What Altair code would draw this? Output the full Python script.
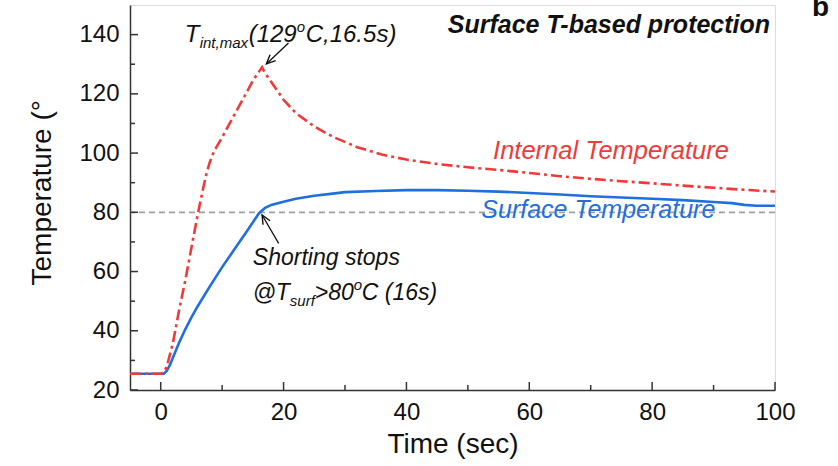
import altair as alt
import pandas as pd

# ---------------- data ----------------
time_surface = [-5, 0, 0.5, 1, 1.5, 2, 3, 4, 5, 6, 8, 10, 12, 14, 16, 17, 18, 20, 22, 25, 28, 30, 35,
                40, 45, 50, 55, 60, 65, 70, 75, 80, 85, 90, 93, 95, 97, 100]
temp_surface = [25.5, 25.5, 25.5, 26.5, 28.5, 31, 36, 40.5, 44.5, 48.2, 55, 61.5, 67.5, 73.5, 79.7,
                81.5, 82.5, 83.6, 84.6, 85.6, 86.3, 86.8, 87.2, 87.5, 87.5, 87.3, 87.0, 86.5, 86.0,
                85.4, 85.0, 84.6, 84.1, 83.5, 83.1, 82.5, 82.2, 82.2]

time_internal = [-5, 0, 0.5, 1, 2, 3, 4, 5, 6, 7, 7.5, 8, 8.5, 9, 10, 12, 14, 15, 16, 16.5, 17, 18, 20,
                 22, 25, 28, 32, 36, 40, 45, 50, 55, 60, 65, 70, 75, 80, 85, 90, 95, 100]
temp_internal = [25.5, 25.5, 26, 28, 36, 47, 57, 68, 79, 89, 93.5, 97, 99.7, 101.8, 105.3, 113, 120.5,
                 124.5, 127.5, 129, 127, 124, 118, 113.5, 109, 105.5, 102, 99.5, 97.8, 96.3, 95.2,
                 94.3, 93.3, 92.2, 91.3, 90.5, 89.8, 89.0, 88.3, 87.6, 87.0]

x_major = [0, 20, 40, 60, 80, 100]
x_minor = [10, 30, 50, 70, 90]
y_major = [20, 40, 60, 80, 100, 120, 140]
y_minor = [30, 50, 70, 90, 110, 130]
threshold = [80]

FONT = "Liberation Sans"
RED = "#f03a3a"
BLUE = "#1f6fde"
W, H = 645, 385

xaxis = alt.Axis(values=x_major, ticks=False, grid=False, labelFontSize=24, labelFont=FONT,
                 labelColor="#111", labelPadding=10, labelFlush=False, domainColor="#333",
                 domainWidth=1.5, title="Time (sec)", titleFont=FONT, titleFontSize=28,
                 titleFontWeight="normal", titleColor="#111", titlePadding=6)
yaxis = alt.Axis(values=y_major, ticks=False, grid=False, labelFontSize=24, labelFont=FONT,
                 labelColor="#111", labelPadding=11, labelFlush=False, domainColor="#333",
                 domainWidth=1.5, title="Temperature (°", titleFont=FONT, titleFontSize=28,
                 titleFontWeight="normal", titleColor="#111", titleAngle=270, titleAlign="left",
                 titleBaseline="alphabetic", titleX=-80, titleY=280)

X = alt.X("t:Q", scale=alt.Scale(domain=[-5, 100], nice=False, zero=False), axis=xaxis)
Y = alt.Y("T:Q", scale=alt.Scale(domain=[20, 150], nice=False, zero=False), axis=yaxis)

surf_df = pd.DataFrame({"t": time_surface, "T": temp_surface})
int_df = pd.DataFrame({"t": time_internal, "T": temp_internal})

layers = []

# threshold dashed line
layers.append(alt.Chart(pd.DataFrame({"T": threshold})).mark_rule(
    color="#a0a0a0", strokeDash=[6, 4], strokeWidth=1.8).encode(y=Y))

# curves
layers.append(alt.Chart(surf_df).mark_line(color=BLUE, strokeWidth=2.6).encode(x=X, y=Y))
layers.append(alt.Chart(int_df).mark_line(color=RED, strokeWidth=2.6,
                                          strokeDash=[11, 4, 3, 4]).encode(x=X, y=Y))

# inward ticks
layers.append(alt.Chart(pd.DataFrame({"t": x_major})).mark_rule(color="#333", strokeWidth=1.5)
              .encode(x=X, y=alt.value(H), y2=alt.value(H - 8)))
layers.append(alt.Chart(pd.DataFrame({"t": x_minor})).mark_rule(color="#333", strokeWidth=1.5)
              .encode(x=X, y=alt.value(H), y2=alt.value(H - 5)))
layers.append(alt.Chart(pd.DataFrame({"T": y_major})).mark_rule(color="#333", strokeWidth=1.5)
              .encode(y=Y, x=alt.value(0), x2=alt.value(8)))
layers.append(alt.Chart(pd.DataFrame({"T": y_minor})).mark_rule(color="#333", strokeWidth=1.5)
              .encode(y=Y, x=alt.value(0), x2=alt.value(5)))


def txt(t, T, s, size, color="#111", dx=0, dy=0, style="italic", weight="normal", align="left"):
    return alt.Chart(pd.DataFrame({"t": [t], "T": [T], "s": [s]})).mark_text(
        font=FONT, fontSize=size, fontStyle=style, fontWeight=weight, color=color,
        align=align, baseline="alphabetic", dx=dx, dy=dy).encode(x=X, y=Y, text="s:N")


# annotation: T_int,max
a1 = (3.9, 137.5)
layers += [
    txt(*a1, "T", 24),
    txt(*a1, "int,max", 15, dx=15, dy=6),
    txt(*a1, "(129", 24, dx=64),
    txt(*a1, "o", 15, dx=112, dy=-10),
    txt(*a1, "C,16.5s)", 24, dx=121),
]

# annotation: shorting stops
layers.append(txt(15.0, 62.2, "Shorting stops", 23))
a2 = (15.0, 50.4)
layers += [
    txt(*a2, "@", 23),
    txt(*a2, "T", 23, dx=23),
    txt(*a2, "surf", 15, dx=37, dy=6),
    txt(*a2, ">80", 23, dx=62),
    txt(*a2, "o", 15, dx=101, dy=-10),
    txt(*a2, "C (16s)", 23, dx=109),
]

# series labels and panel title
layers.append(txt(54.1, 98.0, "Internal Temperature", 25.5, color=RED))
layers.append(txt(52.2, 78.1, "Surface Temperature", 25, color=BLUE))
layers.append(txt(99.2, 140.5, "Surface T-based protection", 25, weight="bold", align="right"))

# arrows (shafts)
arrows = pd.DataFrame({"t": [20.8, 19.2], "T": [137.2, 69.5], "t2": [17.2, 16.5], "T2": [130.1, 79.1]})
layers.append(alt.Chart(arrows).mark_rule(color="#111", strokeWidth=1.3).encode(
    x=X, y=Y, x2="t2:Q", y2="T2:Q"))
# arrow heads
head = "M-0.45,1 L0,0 L0.45,1"
layers.append(alt.Chart(pd.DataFrame({"t": [17.2], "T": [130.1]})).mark_point(
    shape=head, size=324, filled=False, color="#111", strokeWidth=1.4, angle=226, opacity=1)
    .encode(x=X, y=Y))
layers.append(alt.Chart(pd.DataFrame({"t": [16.5], "T": [79.1]})).mark_point(
    shape=head, size=324, filled=False, color="#111", strokeWidth=1.4, angle=330, opacity=1)
    .encode(x=X, y=Y))

# cropped panel letter (cut by the top edge, as in the reference)
layers.append(alt.Chart(pd.DataFrame({"s": ["b"]})).mark_text(
    font=FONT, fontSize=28, fontWeight="bold", color="#111", align="left",
    baseline="alphabetic").encode(x=alt.value(682), y=alt.value(11), text="s:N"))

chart = alt.layer(*layers).properties(
    width=W, height=H,
    autosize=alt.AutoSizeParams(type="none"),
    padding={"left": 130, "top": 5, "right": 63, "bottom": 76},
    background="white",
).configure_view(stroke="#333", strokeWidth=1.5).configure(font=FONT)

chart.save("out.html", embed_options={"renderer": "svg", "actions": False})
